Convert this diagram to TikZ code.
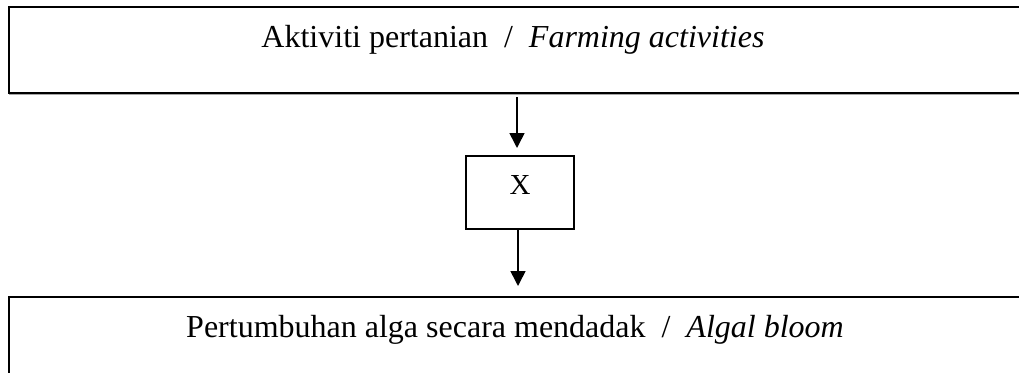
\documentclass[tikz,border=0pt]{standalone}
\usepackage{fontspec}
\setmainfont{Liberation Serif}
\usetikzlibrary{arrows.meta}
\begin{document}
\begin{tikzpicture}[x=1pt,y=-1pt,
  panel/.style={draw=black,line width=2pt,inner sep=0pt,outer sep=0pt},
  smallbox/.style={draw=black,line width=1.1pt,inner sep=0pt,outer sep=0pt,
    minimum width=108pt,minimum height=73pt},
  label/.style={inner sep=0pt,anchor=base,font=\fontsize{32}{38}\selectfont},
  flow/.style={line width=1.6pt,-{Triangle[width=15pt,length=15pt]}}]
  \useasboundingbox (0,0) rectangle (1019,372);
  \begin{scope}
    \clip (0,0) rectangle (1019,372);
    % upper panel with its faint shadow line
    \node[panel,minimum width=1030pt,minimum height=86pt] (top) at (524,50) {};
    \draw[gray!70,line width=1pt] (9,94.6) -- (1030,94.6);
    % lower panel, running off the page
    \node[panel,minimum width=1030pt,minimum height=120pt] (bottom) at (524,357) {};
  \end{scope}
  \node[label] (toptext) at (513,47.5) {Aktiviti pertanian\ \ /\ \ \textit{Farming activities}};
  \node[label] (bottomtext) at (515,337) {Pertumbuhan alga secara mendadak\ \ /\ \ \textit{Algal bloom}};
  % middle box
  \node[smallbox] (xbox) at (520,192.5) {};
  \node[label,font=\fontsize{29}{35}\selectfont] (xlabel) at (520,194) {X};
  % connectors
  \coordinate (a1) at (517,97);
  \draw[flow,shorten >=8pt] (a1) -- (a1 |- xbox.north);
  \draw[flow,shorten >=11pt] (xbox.south -| 518,0) -- (bottom.north -| 518,0);
\end{tikzpicture}
\end{document}
